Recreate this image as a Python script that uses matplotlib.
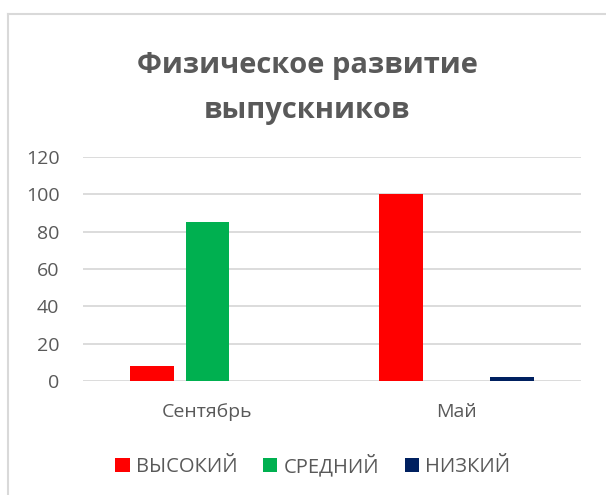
import matplotlib
matplotlib.use("Agg")
import matplotlib.pyplot as plt
from matplotlib.patches import Patch
from matplotlib.lines import Line2D
import numpy as np

plt.rcParams['font.family'] = ['Open Sans', 'DejaVu Sans']

categories = ["Сентябрь", "Май"]
series_names = ["ВЫСОКИЙ", "СРЕДНИЙ", "НИЗКИЙ"]
vysokiy = [8, 100]
sredniy = [85, 0]
nizkiy = [0, 2]
colors = ["#FF0000", "#00B050", "#002060"]
yticks = [0, 20, 40, 60, 80, 100, 120]
title = "Физическое развитие\nвыпускников"

W, H = 606, 495
fig = plt.figure(figsize=(W / 100, H / 100), dpi=100)
ax = fig.add_axes([83 / W, (H - 381) / H, (581 - 83) / W, (381 - 157) / H])

x = np.arange(len(categories))
width = 0.173
offset = 0.223
for i, (vals, c, name) in enumerate(zip([vysokiy, sredniy, nizkiy], colors, series_names)):
    ax.bar(x + (i - 1) * offset, vals, width=width, color=c, label=name, zorder=3)

ax.set_xlim(-0.5, 1.5)
ax.set_ylim(0, 120)
ax.set_yticks(yticks)
ax.set_xticks(x)
ax.set_xticklabels(categories)
ax.grid(axis='y', color='#D9D9D9', linewidth=1.3, zorder=0)
for s in ax.spines.values():
    s.set_visible(False)
ax.tick_params(axis='both', length=0, labelcolor='#595959', labelsize=14)
ax.yaxis.set_tick_params(pad=17)
ax.xaxis.set_tick_params(pad=16)

fig.text(307 / W, (H - 88) / H, title, ha='center', va='center',
         fontsize=21, fontweight='bold', color='#595959', linespacing=1.72)

handles = [Patch(facecolor=c, edgecolor='none') for c in colors]
fig.legend(handles, series_names, loc='center', bbox_to_anchor=(313 / W, (H - 466) / H),
           ncol=3, frameon=False, fontsize=14.5, labelcolor='#595959',
           handlelength=0.7, handleheight=0.7, handletextpad=0.3, columnspacing=1.3)

# chart border (left and top visible)
fig.add_artist(Line2D([7.5 / W, 7.5 / W], [0, (H - 14) / H], color='#D9D9D9', linewidth=1.5, transform=fig.transFigure))
fig.add_artist(Line2D([7.5 / W, 1], [(H - 14) / H, (H - 14) / H], color='#D9D9D9', linewidth=1.5, transform=fig.transFigure))

fig.savefig("out.png", dpi=100)
